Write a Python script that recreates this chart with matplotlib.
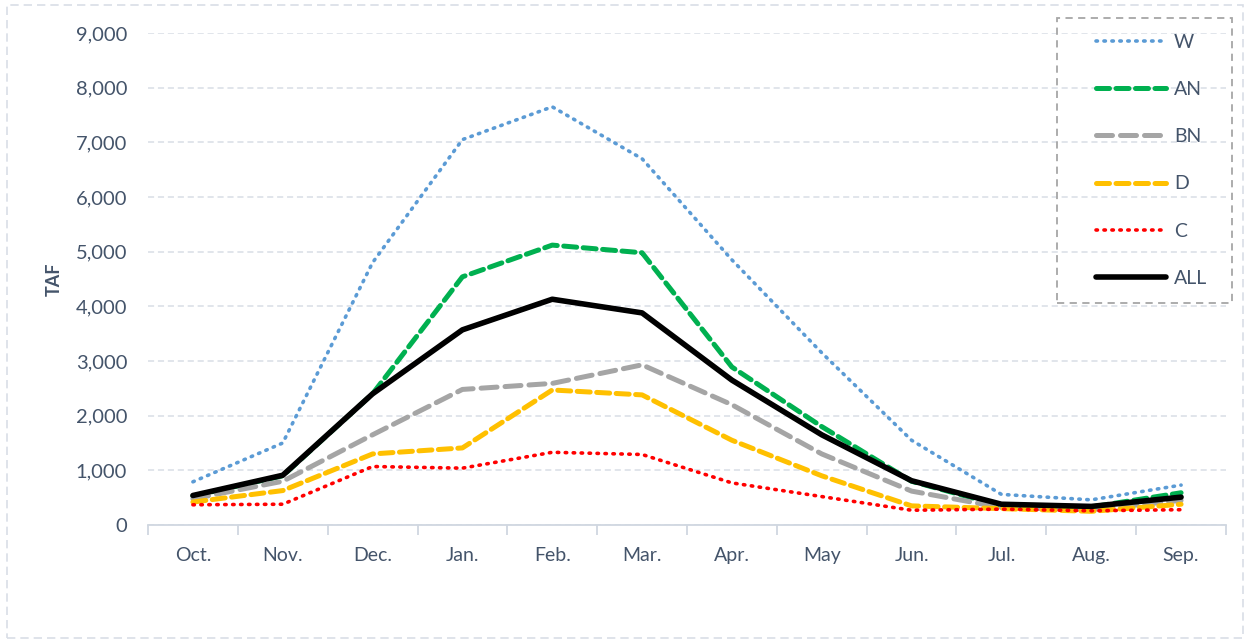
import matplotlib
matplotlib.use("Agg")
import matplotlib.pyplot as plt
from matplotlib.patches import Rectangle
from matplotlib.ticker import FuncFormatter, FixedLocator, NullFormatter

plt.rcParams['font.family'] = ['Lato', 'DejaVu Sans']

months = ["Oct.", "Nov.", "Dec.", "Jan.", "Feb.", "Mar.",
          "Apr.", "May", "Jun.", "Jul.", "Aug.", "Sep."]

w_vals   = [790, 1500, 4800, 7050, 7650, 6700, 4850, 3150, 1550, 560, 460, 730]
an_vals  = [530, 900, 2400, 4540, 5120, 4980, 2890, 1800, 800, 350, 330, 590]
bn_vals  = [480, 800, 1650, 2480, 2590, 2930, 2200, 1300, 620, 320, 280, 450]
d_vals   = [420, 630, 1300, 1410, 2470, 2380, 1550, 900, 350, 300, 250, 380]
c_vals   = [370, 380, 1070, 1040, 1330, 1290, 770, 520, 270, 290, 260, 280]
all_vals = [540, 910, 2400, 3570, 4130, 3880, 2650, 1650, 810, 380, 340, 510]

series_names = ["W", "AN", "BN", "D", "C", "ALL"]

text_color = "#44546A"
grid_color = "#D9DEE6"
W, H = 1251, 643

fig = plt.figure(figsize=(W / 100, H / 100), dpi=100)
ax = fig.add_axes([148 / W, (H - 525) / H, (1226 - 148) / W, (525 - 33) / H])

x = list(range(len(months)))
styles = [
    dict(color="#5B9BD5", lw=2.6, linestyle=(0, (0.4, 1.8)), dash_capstyle="round"),
    dict(color="#00B050", lw=3.6, linestyle=(0, (2.6, 1.3)), dash_capstyle="round"),
    dict(color="#A5A5A5", lw=3.6, linestyle=(0, (3.2, 1.6)), dash_capstyle="round"),
    dict(color="#FFC000", lw=3.6, linestyle=(0, (2.6, 1.3)), dash_capstyle="round"),
    dict(color="#FF0000", lw=2.6, linestyle=(0, (0.4, 1.8)), dash_capstyle="round"),
    dict(color="#000000", lw=4.0, linestyle="-", solid_capstyle="round"),
]
for name, vals, st in zip(series_names,
                          [w_vals, an_vals, bn_vals, d_vals, c_vals, all_vals],
                          styles):
    ax.plot(x, vals, label=name, **st)

ax.set_xlim(-0.5, len(months) - 0.5)
ax.set_ylim(0, 9000)
ax.set_yticks(range(0, 9001, 1000))
ax.yaxis.set_major_formatter(FuncFormatter(lambda v, p: f"{int(v):,}"))
ax.grid(axis="y", color=grid_color, linestyle=(0, (4, 2.5)), lw=1.1)
ax.set_axisbelow(True)

# category labels centred, tick marks on category boundaries
ax.set_xticks(x)
ax.set_xticklabels(months)
ax.tick_params(axis="x", which="major", length=0, pad=16, labelsize=14, labelcolor=text_color)
ax.xaxis.set_minor_locator(FixedLocator([i - 0.5 for i in range(len(months) + 1)]))
ax.xaxis.set_minor_formatter(NullFormatter())
ax.tick_params(axis="x", which="minor", length=7, width=1.3, color="#D0D7E0")
ax.tick_params(axis="y", length=0, pad=15, labelsize=14.5, labelcolor=text_color)

for s in ["top", "right", "left"]:
    ax.spines[s].set_visible(False)
ax.spines["bottom"].set_color("#D0D7E0")
ax.spines["bottom"].set_linewidth(1.3)

ax.set_ylabel("TAF", fontsize=13, fontweight="bold", color=text_color, labelpad=9)

# legend entries without frame; the dashed box is drawn separately
leg = fig.legend(loc="upper left", bbox_to_anchor=(1096 / W, 1 - 34 / H),
                 ncol=1, frameon=False, fontsize=14, labelspacing=1.55, handlelength=3.6,
                 handletextpad=0.4, borderpad=0, borderaxespad=0)
for t in leg.get_texts():
    t.set_color(text_color)

fig.patches.append(Rectangle((1057 / W, 1 - 303 / H), (1232 - 1057) / W, (303 - 18) / H,
                             transform=fig.transFigure, fill=False,
                             edgecolor="#A6A6A6", lw=1.3, linestyle=(0, (4, 3))))

# dashed border around the whole chart area
fig.patches.append(Rectangle((7 / W, 5 / H), (1243 - 7) / W, (638 - 5) / H,
                             transform=fig.transFigure, fill=False,
                             edgecolor="#D9DEE6", lw=1.2, linestyle=(0, (5, 3))))

fig.savefig("out.png", dpi=100)
